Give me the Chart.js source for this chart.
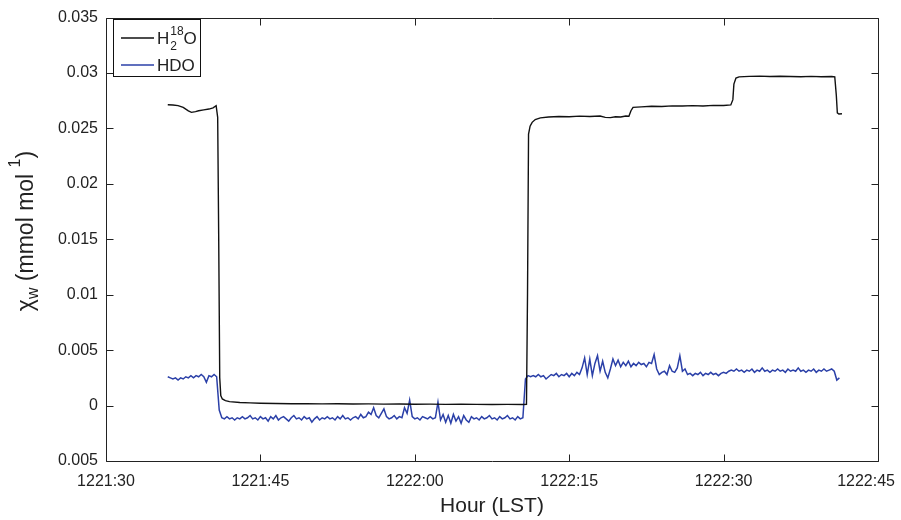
<!DOCTYPE html>
<html>
<head>
<meta charset="utf-8">
<script src="https://cdn.jsdelivr.net/npm/chart.js@4.4.1/dist/chart.umd.min.js"></script>
<style>
  html, body { margin: 0; padding: 0; background: #fff; }
</style>
</head>
<body>
<canvas id="chart" width="901" height="520"></canvas>
<script>
const xTickLabels = ['1221:30', '1221:45', '1222:00', '1222:15', '1222:30', '1222:45'];
const yTickLabels = ['0.005', '0', '0.005', '0.01', '0.015', '0.02', '0.025', '0.03', '0.035'];

// time in seconds after 1221:30
const h2o18Time = [
  6.0, 6.5, 7.0, 7.5, 8.0, 8.3, 8.7, 9.0, 9.5, 10.0, 10.4, 10.7,
  10.85, 10.95, 11.05, 11.15, 11.3, 11.6, 12.0, 13.0, 14.0, 15.0,
  16.5, 18.0, 19.5, 21.0, 22.5, 24.0, 25.5, 27.0, 28.5, 30.0, 31.5,
  33.0, 34.5, 36.0, 37.5, 39.0, 40.5, 40.85, 40.95, 41.05, 41.2, 41.4,
  41.7, 42.2, 43.0, 44.0, 45.0, 46.0, 47.0, 48.0, 48.5, 49.0, 49.5,
  50.0, 50.5, 50.8, 51.0, 51.2, 52.0, 53.0, 54.0, 55.0, 56.0, 57.0,
  58.0, 59.0, 60.0, 60.7, 60.9, 61.0, 61.2, 61.5, 62.5, 63.5, 64.5,
  65.5, 66.5, 67.5, 68.5, 69.5, 70.5, 70.8, 70.95, 71.05, 71.2, 71.5
];
const h2o18 = [
  0.02714, 0.02712, 0.02706, 0.02690, 0.02658, 0.02645, 0.02652, 0.02660, 0.02668, 0.02675, 0.02686, 0.02705,
  0.02600, 0.01500, 0.00250, 0.00090, 0.00060, 0.00045, 0.00036, 0.00028, 0.00024, 0.00021,
  0.00019, 0.00017, 0.00018, 0.00015, 0.00016, 0.00014, 0.00015, 0.00013, 0.00014, 0.00012, 0.00013,
  0.00011, 0.00012, 0.00011, 0.00010, 0.00011, 0.00010, 0.00012, 0.01000, 0.02450, 0.02520, 0.02555,
  0.02580, 0.02595, 0.02603, 0.02608, 0.02605, 0.02611, 0.02608, 0.02612, 0.02600, 0.02598, 0.02606,
  0.02603, 0.02612, 0.02610, 0.02660, 0.02690, 0.02695, 0.02700, 0.02698, 0.02704, 0.02702, 0.02706,
  0.02703, 0.02708, 0.02707, 0.02712, 0.02760, 0.02900, 0.02955, 0.02965, 0.02970, 0.02972, 0.02968,
  0.02971, 0.02969, 0.02967, 0.02970, 0.02966, 0.02968, 0.02965, 0.02800, 0.02640, 0.02630, 0.02632
];

const hdoStart = 6;     // first sample, s after 1221:30
const hdoStep = 0.25;   // sampling interval, s
const hdo = [
  // before the switch
  0.0026, 0.0025, 0.0024, 0.0025, 0.0023, 0.0025, 0.0024, 0.0026, 0.0025, 0.0027,
  0.0025, 0.0027, 0.0026, 0.0028, 0.0026, 0.0021, 0.0027, 0.0026, 0.0028, 0.0026,
  -0.0004,
  // low period
  -0.0011, -0.0012, -0.0010, -0.0012, -0.0011, -0.0013, -0.0011, -0.0012, -0.0010, -0.0012,
  -0.0011, -0.0009, -0.0012, -0.0011, -0.0013, -0.0010, -0.0012, -0.0011, -0.0014, -0.0010,
  -0.0012, -0.0009, -0.0013, -0.0011, -0.0010, -0.0012, -0.0014, -0.0011, -0.0009, -0.0012,
  -0.0011, -0.0013, -0.0010, -0.0012, -0.0011, -0.0015, -0.0012, -0.0010, -0.0013, -0.0011,
  -0.0012, -0.0010, -0.0012, -0.0011, -0.0013, -0.0010, -0.0012, -0.0009, -0.0012, -0.0011,
  -0.0013, -0.0011, -0.0010, -0.0012, -0.0008, -0.0011, -0.0010, -0.0006, -0.0008, -0.0002,
  -0.0009, -0.0011, -0.0007, -0.0003, -0.0010, -0.0012, -0.0011, -0.0009, -0.0012, -0.0010,
  -0.0011, -0.0002, -0.0007, 0.0005, -0.0010, -0.0012, -0.0011, -0.0013, -0.0010, -0.0011,
  -0.0012, -0.0010, -0.0012, -0.0011, 0.0003, -0.0013, -0.0008, -0.0015, -0.0009, -0.0016,
  -0.0008, -0.0014, -0.0010, -0.0016, -0.0009, -0.0013, -0.0015, -0.0010, -0.0012, -0.0011,
  -0.0013, -0.0010, -0.0012, -0.0011, -0.0009, -0.0012, -0.0011, -0.0013, -0.0010, -0.0012,
  -0.0011, -0.0009, -0.0012, -0.0011, -0.0013, -0.0010, -0.0012, -0.0011,
  0.0024,
  // after the switch
  0.0027, 0.0026, 0.0027, 0.0026, 0.0028, 0.0026, 0.0027, 0.0024, 0.0026, 0.0028,
  0.0027, 0.0029, 0.0026, 0.0028, 0.0027, 0.0029, 0.0026, 0.0029, 0.0027, 0.0030,
  0.0028, 0.0034, 0.0043, 0.0028, 0.0042, 0.0027, 0.0038, 0.0045, 0.0031, 0.0040,
  0.0030, 0.0025, 0.0033, 0.0042, 0.0036, 0.0041, 0.0035, 0.0039, 0.0036, 0.0040,
  0.0035, 0.0038, 0.0036, 0.0039, 0.0037, 0.0038, 0.0035, 0.0039, 0.0038, 0.0046,
  0.0033, 0.0028, 0.0030, 0.0031, 0.0028, 0.0036, 0.0031, 0.0030, 0.0034, 0.0045,
  0.0031, 0.0033, 0.0028, 0.0029, 0.0027, 0.0029, 0.0028, 0.0030, 0.0027, 0.0029,
  0.0028, 0.0030, 0.0028, 0.0029, 0.0027, 0.0029, 0.0030, 0.0029, 0.0031, 0.0032,
  0.0031, 0.0033, 0.0031, 0.0032, 0.0030, 0.0032, 0.0031, 0.0033, 0.0030, 0.0032,
  0.0031, 0.0034, 0.0031, 0.0032, 0.0030, 0.0032, 0.0031, 0.0033, 0.0031, 0.0032,
  0.0030, 0.0033, 0.0031, 0.0032, 0.0031, 0.0034, 0.0031, 0.0032, 0.0030, 0.0032,
  0.0031, 0.0033, 0.0030, 0.0032, 0.0031, 0.0033, 0.0031, 0.0032, 0.0033, 0.0031,
  0.0023, 0.0025
];

const FONT = '"Liberation Sans", Arial, Helvetica, sans-serif';
const TEXT = '#222';

const h2o18Points = h2o18Time.map((t, i) => ({ x: t, y: h2o18[i] }));
const hdoPoints = hdo.map((v, i) => ({ x: hdoStart + i * hdoStep, y: v }));

// matlab look: box, inward ticks, x labels kept inside the canvas,
// legend and y label with sub/superscripts
const matlabAxes = {
  id: 'matlabAxes',
  afterDraw(chart) {
    const { ctx, chartArea: a, scales: { x, y } } = chart;
    const L = Math.round(a.left) + 0.5, R = Math.round(a.right) + 0.5;
    const T = Math.round(a.top) + 0.5, B = Math.round(a.bottom) + 0.5;
    ctx.save();
    ctx.strokeStyle = '#222';
    ctx.lineWidth = 1;
    ctx.beginPath();
    ctx.rect(L, T, R - L, B - T);
    x.ticks.forEach(t => {
      const px = Math.round(x.getPixelForValue(t.value)) + 0.5;
      ctx.moveTo(px, B); ctx.lineTo(px, B - 7);
      ctx.moveTo(px, T); ctx.lineTo(px, T + 7);
    });
    y.ticks.forEach(t => {
      const py = Math.round(y.getPixelForValue(t.value)) + 0.5;
      ctx.moveTo(L, py); ctx.lineTo(L + 7, py);
      ctx.moveTo(R, py); ctx.lineTo(R - 7, py);
    });
    ctx.stroke();

    // x tick labels
    ctx.fillStyle = TEXT;
    ctx.font = '16px ' + FONT;
    ctx.textAlign = 'left';
    ctx.textBaseline = 'alphabetic';
    x.ticks.forEach((t, i) => {
      const lbl = xTickLabels[i];
      const w = ctx.measureText(lbl).width;
      let left = x.getPixelForValue(t.value) - w / 2;
      if (left + w > chart.width - 6) left = chart.width - 6 - w;
      ctx.fillText(lbl, left, 486);
    });

    // legend
    ctx.fillStyle = '#fff';
    ctx.fillRect(113.5, 19.5, 87, 57);
    ctx.strokeStyle = '#111';
    ctx.strokeRect(113.5, 19.5, 87, 57);
    const ds = chart.data.datasets;
    const rows = [38, 65];
    ds.forEach((d, i) => {
      ctx.strokeStyle = d.borderColor;
      ctx.lineWidth = 1.3;
      ctx.beginPath();
      ctx.moveTo(121, rows[i]); ctx.lineTo(154, rows[i]);
      ctx.stroke();
    });
    ctx.fillStyle = TEXT;
    let cx = 157;
    ctx.font = '17px ' + FONT;
    ctx.fillText('H', cx, rows[0] + 6);
    cx += ctx.measureText('H').width;
    ctx.font = '12px ' + FONT;
    ctx.fillText('2', cx + 1, rows[0] + 12);
    ctx.fillText('18', cx + 1, rows[0] - 3);
    cx += ctx.measureText('18').width + 1;
    ctx.font = '17px ' + FONT;
    ctx.fillText('O', cx, rows[0] + 6);
    ctx.fillText(ds[1].label, 157, rows[1] + 6);

    // y axis title
    const parts = [
      { t: 'χ', s: 23, dy: 0 },
      { t: 'w', s: 16, dy: 5 },
      { t: ' (mmol mol ', s: 23, dy: 0 },
      { t: '1', s: 16, dy: -13 },
      { t: ')', s: 23, dy: 0 }
    ];
    let w = 0;
    parts.forEach(p => { ctx.font = p.s + 'px ' + FONT; p.w = ctx.measureText(p.t).width; w += p.w; });
    ctx.translate(33, 231);
    ctx.rotate(-Math.PI / 2);
    let px = -w / 2;
    parts.forEach(p => {
      ctx.font = p.s + 'px ' + FONT;
      ctx.fillText(p.t, px, p.dy);
      px += p.w;
    });
    ctx.restore();
  }
};

const data = {
  datasets: [
    {
      label: 'H2 18O',
      data: h2o18Points,
      borderColor: '#111',
      borderWidth: 1.4,
      pointRadius: 0,
      tension: 0
    },
    {
      label: 'HDO',
      data: hdoPoints,
      borderColor: '#2b40a8',
      borderWidth: 1.5,
      pointRadius: 0,
      tension: 0
    }
  ]
};

const config = {
  type: 'line',
  data: data,
  options: {
    responsive: false,
    animation: false,
    layout: { padding: { top: 13, right: 23, left: 0, bottom: 0 } },
    plugins: {
      legend: { display: false },
      tooltip: { enabled: false }
    },
    scales: {
      x: {
        type: 'linear',
        min: 0,
        max: 75,
        grid: { display: false, drawTicks: false },
        border: { display: false },
        ticks: {
          display: false,
          stepSize: 15,
          autoSkip: false,
          maxRotation: 0
        },
        title: {
          display: true,
          text: 'Hour (LST)',
          color: TEXT,
          font: { family: FONT, size: 21 },
          padding: { top: 0, bottom: 1 }
        },
        afterFit: s => { s.height = 59; s.paddingLeft = 0; s.paddingRight = 0; }
      },
      y: {
        min: -0.005,
        max: 0.035,
        grid: { display: false, drawTicks: false },
        border: { display: false },
        ticks: {
          stepSize: 0.005,
          autoSkip: false,
          padding: 8,
          color: TEXT,
          font: { family: FONT, size: 16 },
          callback: (v, i) => yTickLabels[i]
        },
        afterFit: s => { s.width = 106; }
      }
    }
  },
  plugins: [matlabAxes]
};

const myChart = new Chart(document.getElementById('chart'), config);
</script>
</body>
</html>
